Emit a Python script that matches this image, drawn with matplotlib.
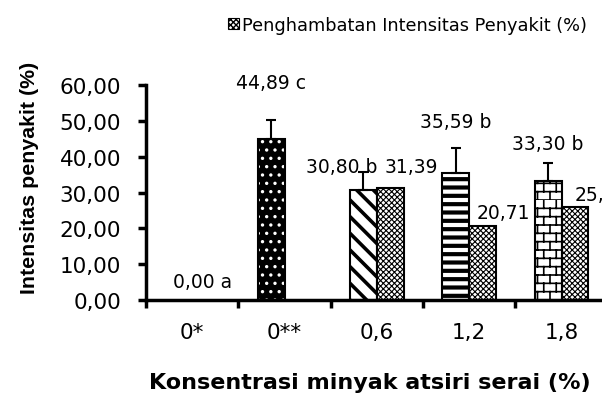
import warnings
warnings.filterwarnings("ignore")
import numpy as np
import matplotlib
matplotlib.use("Agg")
import matplotlib.pyplot as plt
from matplotlib import hatch as mhatch
from matplotlib.path import Path
from matplotlib.patches import Patch

# ---- data ----
categories = ["0*", "0**", "0,6", "1,2", "1,8"]
intensitas = [0.00, 44.89, 30.80, 35.59, 33.30]
intensitas_err = [0.0, 5.3, 4.9, 6.8, 4.9]
intensitas_labels = ["0,00 a", "44,89 c", "30,80 b", "35,59 b", "33,30 b"]
penghambatan = [np.nan, np.nan, 31.39, 20.71, 25.96]
penghambatan_labels = ["", "", "31,39", "20,71", "25,96"]
yticks = [0, 10, 20, 30, 40, 50, 60]
ytick_labels = ["0,00", "10,00", "20,00", "30,00", "40,00", "50,00", "60,00"]


# ---- custom brick hatch ----
class BrickHatch(mhatch.HatchPatternBase):
    def __init__(self, hatch, density):
        self.on = 'B' in hatch
        self.rows = 12
        self.cols = 8
        self.num_vertices = (self.rows * 2 + self.rows * self.cols * 2) if self.on else 0

    def set_vertices_and_codes(self, vertices, codes):
        k = 0
        h = 1.0 / self.rows
        w = 1.0 / self.cols
        for r in range(self.rows):
            y = r * h
            vertices[k] = (0, y); vertices[k + 1] = (1, y)
            codes[k] = Path.MOVETO; codes[k + 1] = Path.LINETO
            k += 2
        for r in range(self.rows):
            off = 0 if r % 2 == 0 else w / 2
            for c in range(self.cols):
                x = c * w + off
                vertices[k] = (x, r * h); vertices[k + 1] = (x, (r + 1) * h)
                codes[k] = Path.MOVETO; codes[k + 1] = Path.LINETO
                k += 2

mhatch._hatch_types.append(BrickHatch)

plt.rcParams['font.family'] = ['DejaVu Sans']

fig = plt.figure(figsize=(6.02, 4.14), dpi=100)
ax = fig.add_axes([0.2425, 0.273, 0.767, 0.519])

x = np.arange(len(categories))
w = 0.29

s1_styles = [
    dict(fc='white', hc='black', hatch=None, hlw=1.0),
    dict(fc='black', hc='white', hatch='..', hlw=1.2),
    dict(fc='white', hc='black', hatch='\\\\', hlw=2.6),
    dict(fc='white', hc='black', hatch='--', hlw=3.0),
    dict(fc='white', hc='black', hatch='B', hlw=1.2),
]

def draw_bar(xc, val, st):
    bars = ax.bar(xc, val, w, color=st['fc'], edgecolor=st['hc'], linewidth=0,
                  hatch=st['hatch'], zorder=2)
    for b in bars:
        if hasattr(b, 'set_hatch_linewidth'):
            b.set_hatch_linewidth(st['hlw'])
    ax.bar(xc, val, w, fill=False, edgecolor='black', linewidth=1.5, zorder=3)

for i in range(len(categories)):
    if intensitas[i] > 0:
        draw_bar(x[i] - w / 2, intensitas[i], s1_styles[i])
        ax.errorbar(x[i] - w / 2, intensitas[i], yerr=[[0], [intensitas_err[i]]],
                    fmt='none', ecolor='black', elinewidth=1.5, capsize=3.6, capthick=1.5, zorder=4)

s2_style = dict(fc='white', hc='black', hatch='xxxxxx', hlw=0.8)
for i in range(len(categories)):
    if not np.isnan(penghambatan[i]):
        draw_bar(x[i] + w / 2, penghambatan[i], s2_style)

# labels (offsets in points relative to bar top)
s1_off = [(17, 13), (0, 41), (-16, 17), (0, 37), (0, 27)]
for i in range(len(categories)):
    dx, dy = s1_off[i]
    ax.annotate(intensitas_labels[i], (x[i] - w / 2, intensitas[i]), xytext=(dx, dy),
                textcoords='offset points', ha='center', va='center', fontsize=13.5,
                annotation_clip=False)
s2_off = [None, None, (15, 15.5), (15, 9.5), (19, 9)]
for i in range(len(categories)):
    if penghambatan_labels[i]:
        dx, dy = s2_off[i]
        ax.annotate(penghambatan_labels[i], (x[i] + w / 2, penghambatan[i]), xytext=(dx, dy),
                    textcoords='offset points', ha='center', va='center', fontsize=13.5,
                    annotation_clip=False)

ax.set_xlim(-0.5, 4.5)
ax.set_ylim(0, 60)
ax.set_yticks(yticks)
ax.set_yticklabels(ytick_labels, fontsize=15.5)
ax.set_xticks(x)
ax.set_xticklabels(categories, fontsize=15.5)
ax.tick_params(axis='x', which='major', length=0, pad=16)
ax.set_xticks(np.arange(len(categories)) - 0.5, minor=True)
ax.tick_params(axis='x', which='minor', length=6, width=2.5, direction='out')
ax.tick_params(axis='y', length=6, width=2.5, direction='out', pad=12)
for s in ['top', 'right']:
    ax.spines[s].set_visible(False)
for s in ['left', 'bottom']:
    ax.spines[s].set_linewidth(2.5)

fig.text(30 / 602, 1 - 178 / 414, "Intensitas penyakit (%)", rotation=90,
         fontsize=15.4, fontweight='bold', family=['Liberation Sans', 'DejaVu Sans'],
         ha='center', va='center')
fig.text(370 / 602, 1 - 383 / 414, "Konsentrasi minyak atsiri serai (%)", fontsize=16,
         fontweight='bold', ha='center', va='center')

h2 = Patch(facecolor='white', edgecolor='black', hatch='xxxxxx', linewidth=0.8)
fig.legend(handles=[h2], labels=["Penghambatan Intensitas Penyakit (%)"],
           loc='upper right', bbox_to_anchor=(0.995, 0.99), frameon=False,
           fontsize=12.8, handlelength=0.6, handleheight=0.6, handletextpad=0.15,
           borderpad=0.2)

fig.savefig("out.png", dpi=100)
